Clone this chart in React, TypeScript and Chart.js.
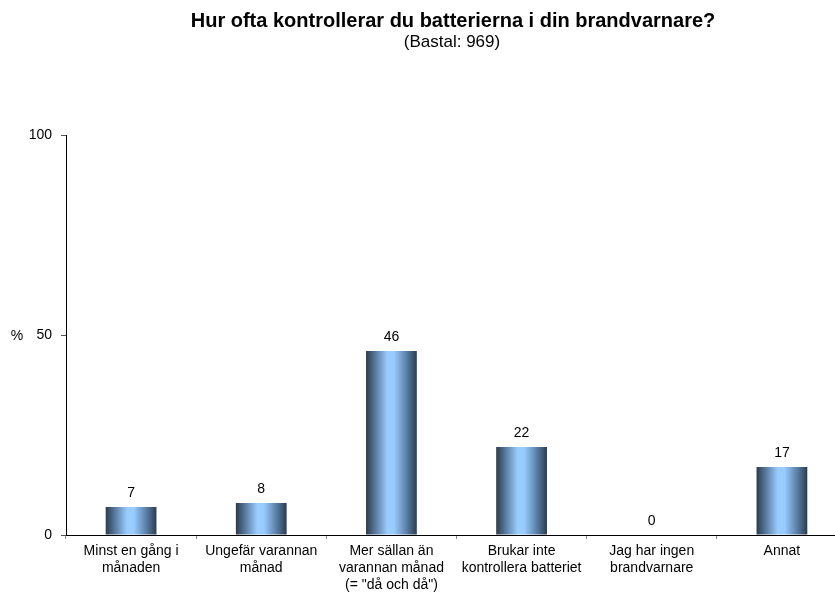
import React, { useEffect, useRef } from "react";
import { Chart, registerables } from "chart.js";

Chart.register(...registerables);

const titleText = "Hur ofta kontrollerar du batterierna i din brandvarnare?";
const subtitleText = "(Bastal: 969)";
const yAxisLabel = "%";

const categories: string[][] = [
  ["Minst en gång i", "månaden"],
  ["Ungefär varannan", "månad"],
  ["Mer sällan än", "varannan månad", "(= \"då och då\")"],
  ["Brukar inte", "kontrollera batteriet"],
  ["Jag har ingen", "brandvarnare"],
  ["Annat"],
];
const values: number[] = [7, 8, 46, 22, 0, 17];
const yTicks: number[] = [0, 50, 100];

const FONT = "'Liberation Sans', Arial, sans-serif";
const BAR_PCT = 0.39;

export default function App() {
  const ref = useRef<HTMLCanvasElement | null>(null);

  useEffect(() => {
    if (!ref.current) return;

    const gradientFill = (ctx: any) => {
      const chart = ctx.chart;
      if (ctx.type !== "data" || !chart.chartArea) return "#99ccff";
      const xs = chart.scales.x;
      const cx = xs.getPixelForValue(ctx.dataIndex);
      const w = ((xs.right - xs.left) / categories.length) * BAR_PCT;
      const g = chart.ctx.createLinearGradient(cx - w / 2, 0, cx + w / 2, 0);
      g.addColorStop(0, "#2c3b4c");
      g.addColorStop(0.18, "#56799e");
      g.addColorStop(0.42, "#99ccff");
      g.addColorStop(0.55, "#99ccff");
      g.addColorStop(0.8, "#5a7fa6");
      g.addColorStop(1, "#2c3b4c");
      return g;
    };

    const textPlugin = {
      id: "texts",
      afterDatasetsDraw(chart: any) {
        const c = chart.ctx;
        c.save();
        c.fillStyle = "#000";
        c.textAlign = "center";
        c.textBaseline = "middle";
        c.font = `14px ${FONT}`;
        const meta = chart.getDatasetMeta(0);
        meta.data.forEach((bar: any, i: number) => {
          c.fillText(String(values[i]), bar.x, bar.y - 14);
        });
        c.restore();
      },
      afterDraw(chart: any) {
        const c = chart.ctx;
        c.save();
        c.fillStyle = "#000";
        c.textAlign = "center";
        c.textBaseline = "alphabetic";
        c.font = `bold 20px ${FONT}`;
        c.fillText(titleText, 453, 27);
        c.font = `17px ${FONT}`;
        c.fillText(subtitleText, 452, 47);
        c.textBaseline = "middle";
        c.font = `14px ${FONT}`;
        c.fillText(yAxisLabel, 17, 336);
        c.restore();
      },
    };

    const chart = new Chart(ref.current, {
      type: "bar",
      data: {
        labels: categories,
        datasets: [
          {
            data: values,
            backgroundColor: gradientFill,
            borderWidth: 0,
            barPercentage: BAR_PCT,
            categoryPercentage: 1,
          },
        ],
      },
      options: {
        responsive: false,
        animation: false,
        devicePixelRatio: 1,
        layout: { padding: { top: 135, left: 0, right: 0, bottom: 0 } },
        plugins: {
          legend: { display: false },
          title: { display: false },
          tooltip: { enabled: false },
        },
        scales: {
          x: {
            type: "category",
            offset: true,
            grid: {
              display: true,
              offset: true,
              drawOnChartArea: false,
              drawTicks: true,
              tickLength: 4,
              color: "#888",
            },
            border: { display: true, color: "#000", width: 1 },
            ticks: {
              color: "#000",
              font: { family: FONT, size: 14, lineHeight: 1.2 },
              padding: 4,
              maxRotation: 0,
              minRotation: 0,
              autoSkip: false,
            },
            afterFit: (s: any) => {
              s.height = 62;
            },
          },
          y: {
            min: 0,
            max: 100,
            afterBuildTicks: (s: any) => {
              s.ticks = yTicks.map((v) => ({ value: v }));
            },
            grid: {
              display: true,
              drawOnChartArea: false,
              drawTicks: true,
              tickLength: 5,
              color: "#555",
            },
            border: { display: true, color: "#000", width: 1 },
            ticks: {
              color: "#000",
              font: { family: FONT, size: 14 },
              padding: 9,
            },
            afterFit: (s: any) => {
              s.width = 66;
            },
          },
        },
      },
      plugins: [textPlugin],
    });

    return () => chart.destroy();
  }, []);

  return (
    <div
      style={{
        position: "fixed",
        left: 0,
        top: 0,
        width: 835,
        height: 597,
        overflow: "hidden",
        background: "#fff",
      }}
    >
      <canvas
        ref={ref}
        width={847}
        height={597}
        style={{ position: "absolute", left: 0, top: 0, width: 847, height: 597 }}
      />
    </div>
  );
}
